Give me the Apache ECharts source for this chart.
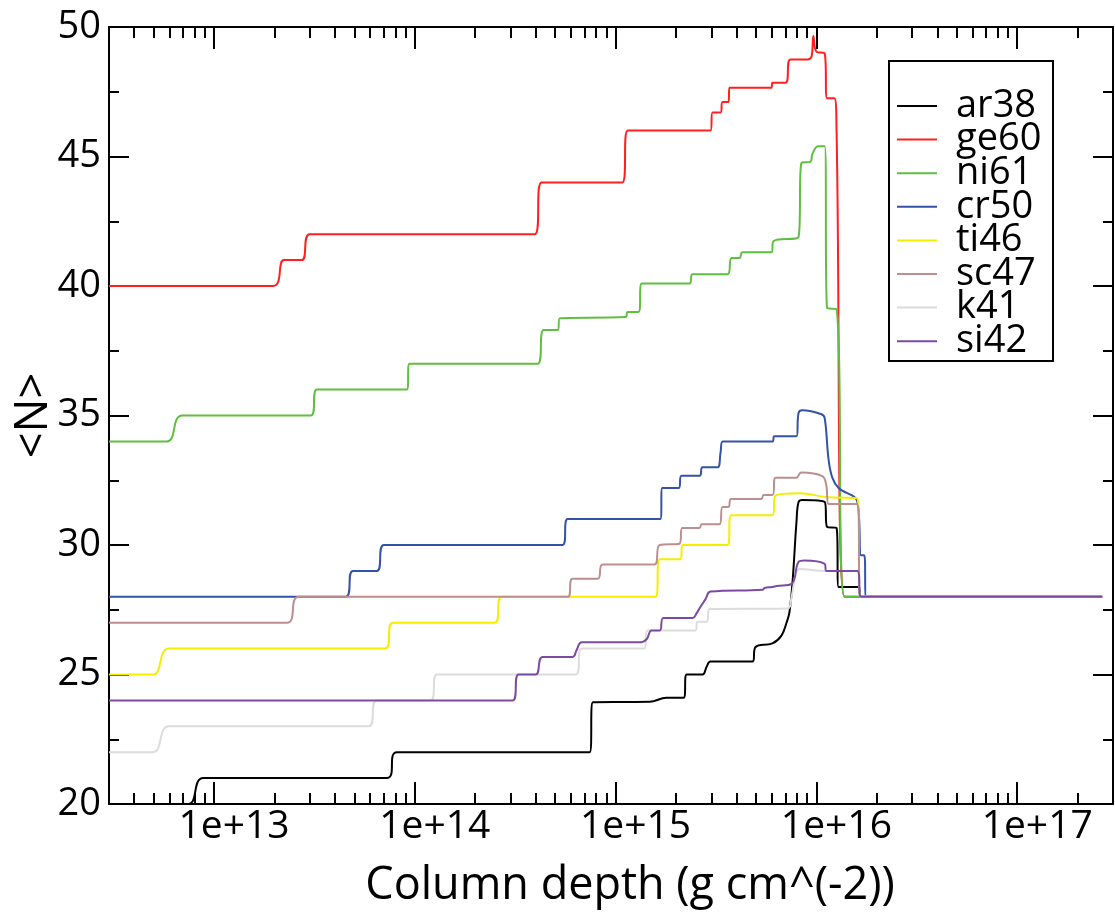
<!DOCTYPE html>
<html>
<head>
<meta charset="utf-8">
<script src="https://cdn.jsdelivr.net/npm/echarts@6/dist/echarts.min.js"></script>
<style>
html,body{margin:0;padding:0;background:#fff;}
#chart{width:1115px;height:912px;}
</style>
</head>
<body>
<div id="chart"></div>
<script>
// ---- data (column depth in g cm^-2, <N>) ----
const seriesNames = ['ar38', 'ge60', 'ni61', 'cr50', 'ti46', 'sc47', 'k41', 'si42'];
const seriesColors = ['#000000', '#ff1f1f', '#5fbf41', '#3352a8', '#f4ee00', '#bc8f8f', '#dcdcdc', '#7d4aa3'];

const ar38 = [[3.0e12,20],[7.43e12,20],[8.84e12,21],[7.26e13,21],[8.15e13,22],[7.43e14,22],[7.7e14,23.93],[1.48e15,23.95],[1.79e15,24.1],[2.18e15,24.1],[2.26e15,25.0],[2.71e15,25.0],[2.84e15,25.3],[2.97e15,25.5],[4.8e15,25.5],[4.98e15,26.06],[6.04e15,26.2],[6.7e15,26.5],[7.1e15,27.0],[7.34e15,27.4],[7.61e15,28.6],[7.96e15,30.9],[8.15e15,31.66],[8.51e15,31.74],[1.1e16,31.66],[1.13e16,30.7],[1.26e16,30.66],[1.29e16,28.38],[1.62e16,28.38],[1.67e16,28],[2.65e17,28]];

const ge60 = [[3.0e12,40],[1.97e13,40],[2.23e13,41],[2.74e13,41],[3.0e13,42],[3.96e14,42],[4.28e14,44],[1.08e15,44],[1.15e15,46],[2.97e15,46],[3.04e15,46.7],[3.33e15,46.7],[3.41e15,47.1],[3.65e15,47.1],[3.69e15,47.65],[5.97e15,47.65],[6.04e15,47.85],[7.02e15,47.85],[7.43e15,48.75],[9.0e15,48.75],[9.45e15,48.85],[9.66e15,49.65],[1.0e16,49.05],[1.1e16,48.98],[1.13e16,47.25],[1.23e16,47.25],[1.26e16,46.0],[1.38e16,28],[2.65e17,28]];

const ni61 = [[3.0e12,34],[5.83e12,34],[6.94e12,35],[3.04e13,35],[3.26e13,36],[9.13e13,36],[9.4e13,37],[4.09e14,37],[4.39e14,38.3],[5.15e14,38.3],[5.27e14,38.75],[1.12e15,38.8],[1.15e15,39.0],[1.3e15,39.0],[1.35e15,40.1],[2.33e15,40.1],[2.42e15,40.45],[3.61e15,40.45],[3.78e15,41.08],[4.14e15,41.08],[4.28e15,41.3],[5.97e15,41.3],[6.11e15,41.73],[8.15e15,41.9],[8.42e15,44.75],[9.35e15,44.8],[9.55e15,45.1],[1.02e16,45.4],[1.1e16,45.4],[1.13e16,39.15],[1.26e16,39.1],[1.38e16,28],[2.65e17,28]];

const cr50 = [[3.0e12,28],[4.53e13,28],[4.92e13,29],[6.47e13,29],[7.02e13,30],[5.45e14,30],[5.77e14,31],[1.67e15,31],[1.71e15,32.2],[2.06e15,32.2],[2.13e15,32.67],[2.62e15,32.67],[2.71e15,33.0],[3.22e15,33.0],[3.33e15,33.55],[3.41e15,34.0],[6.04e15,34.0],[6.18e15,34.2],[7.96e15,34.2],[8.15e15,35.1],[8.51e15,35.2],[1.06e16,35.05],[1.1e16,34.9],[1.15e16,33.3],[1.2e16,32.6],[1.29e16,32.2],[1.6e16,31.66],[1.67e16,29.6],[1.73e16,29.6],[1.77e16,28],[2.65e17,28]];

const ti46 = [[3.0e12,25],[4.98e12,25],[5.97e12,26],[7.1e13,26],[7.8e13,27],[2.5e14,27],[2.71e14,28],[1.58e15,28],[1.66e15,29.45],[2.11e15,29.45],[2.15e15,30.0],[3.61e15,30.0],[3.76e15,31.15],[6.04e15,31.15],[6.26e15,31.9],[8.24e15,32.0],[1.12e16,31.85],[1.6e16,31.8],[1.66e16,28],[2.65e17,28]];

const sc47 = [[3.0e12,27],[2.31e13,27],[2.65e13,28],[5.77e14,28],[6.11e14,28.7],[8.15e14,28.7],[8.62e14,29.25],[1.56e15,29.25],[1.66e15,30.0],[2.08e15,30.05],[2.15e15,30.66],[2.62e15,30.66],[2.68e15,30.8],[3.29e15,30.8],[3.41e15,31.47],[3.65e15,31.47],[3.76e15,31.78],[5.32e15,31.78],[5.45e15,31.93],[6.04e15,31.93],[6.26e15,32.6],[7.96e15,32.6],[8.24e15,32.75],[8.42e15,32.8],[1.07e16,32.66],[1.12e16,32.3],[1.15e16,31.58],[1.6e16,31.58],[1.66e16,28],[2.65e17,28]];

const k41 = [[3.0e12,22],[4.98e12,22],[5.97e12,23],[5.9e13,23],[6.47e13,24],[1.2e14,24],[1.29e14,25],[6.34e14,25],[6.79e14,26],[1.39e15,26],[1.44e15,26.7],[2.5e15,26.7],[2.56e15,27.04],[2.84e15,27.04],[2.94e15,27.53],[7.17e15,27.55],[7.52e15,28.0],[7.9e15,28.9],[8.24e15,29.07],[1.1e16,29.0],[1.6e16,29.0],[1.67e16,28],[2.65e17,28]];

const si42 = [[3.0e12,24],[3.07e14,24],[3.29e14,25],[4.0e14,25],[4.33e14,25.68],[6.11e14,25.68],[6.4e14,25.95],[6.79e14,26.25],[1.35e15,26.25],[1.43e15,26.37],[1.51e15,26.7],[1.66e15,26.7],[1.73e15,27.18],[2.42e15,27.18],[2.53e15,27.36],[2.62e15,27.56],[2.8e15,27.9],[2.97e15,28.2],[5.39e15,28.27],[5.52e15,28.34],[6.04e15,28.38],[6.34e15,28.42],[7.52e15,28.5],[8.15e15,29.35],[8.71e15,29.4],[1.1e16,29.27],[1.12e16,29.0],[1.6e16,29.0],[1.67e16,28],[2.65e17,28]];

const xMin = 3e12, xMax = 3e17;
const yMin = 20, yMax = 50, yStep = 5;
const xTickValues = [1e13, 1e14, 1e15, 1e16, 1e17];
const xTickLabels = ['1e+13', '1e+14', '1e+15', '1e+16', '1e+17'];
const xTitle = 'Column depth (g cm^(-2))';
const yTitle = '<N>';

// ---- chart ----
const allData = [ar38, ge60, ni61, cr50, ti46, sc47, k41, si42];
const FONT = '"Open Sans", "Noto Sans", sans-serif';

// minor log tick positions (2..9 per decade), in log10 space for decorative tick axes
const minorLog = [];
for (let d = 12; d <= 17; d++) {
  for (let m = 2; m <= 9; m++) {
    const v = m * Math.pow(10, d);
    if (v > xMin * 1.0001 && v < xMax * 0.9999) minorLog.push(Math.log10(v));
  }
}

const black = '#000';
function majorX(pos, showLabel) {
  return {
    type: 'log', logBase: 10, position: pos, min: xMin, max: xMax,
    gridIndex: 0,
    axisLine: {show: true, onZero: false, lineStyle: {color: black, width: 2}},
    axisTick: {show: true, inside: true, length: 22, lineStyle: {color: black, width: 2}},
    minorTick: {show: false},
    splitLine: {show: false},
    axisLabel: showLabel ? {
      show: true, color: black, fontSize: 39, fontFamily: FONT, margin: 3,
      padding: [0, 0, 0, 40],
      showMinLabel: false, showMaxLabel: false,
      formatter: function (v) {
        const i = xTickValues.findIndex(t => Math.abs(Math.log10(t) - Math.log10(v)) < 0.01);
        return i >= 0 ? xTickLabels[i] : '';
      }
    } : {show: false}
  };
}
function minorX(pos) {
  return {
    type: 'value', position: pos, min: Math.log10(xMin), max: Math.log10(xMax),
    gridIndex: 0,
    axisLine: {show: false},
    axisTick: {show: true, inside: true, length: 11, customValues: minorLog, lineStyle: {color: black, width: 2}},
    axisLabel: {show: false},
    splitLine: {show: false}
  };
}
function yAx(pos, showLabel) {
  return {
    type: 'value', position: pos, min: yMin, max: yMax, interval: yStep,
    gridIndex: 0,
    axisLine: {show: true, onZero: false, lineStyle: {color: black, width: 2}},
    axisTick: {show: true, inside: true, length: 20, lineStyle: {color: black, width: 2}},
    minorTick: {show: true, splitNumber: 2, length: 10, lineStyle: {color: black, width: 2}},
    splitLine: {show: false},
    axisLabel: showLabel ? {show: true, color: black, fontSize: 38, fontFamily: FONT, margin: 8} : {show: false}
  };
}

const xAxes = [majorX('bottom', true), majorX('top', false), minorX('bottom'), minorX('top')];
xAxes[0].name = xTitle;
xAxes[0].nameLocation = 'middle';
xAxes[0].nameGap = 60;
xAxes[0].nameTextStyle = {fontSize: 45, color: black, fontFamily: FONT, padding: [0, 0, 0, 38]};

const yAxes = [yAx('left', true), yAx('right', false)];
yAxes[0].name = yTitle;
yAxes[0].nameLocation = 'middle';
yAxes[0].nameGap = 52;
yAxes[0].nameMoveOverlap = false;
yAxes[0].nameRotate = 90;
yAxes[0].nameTextStyle = {fontSize: 45, color: black, fontFamily: FONT};

const option = {
  animation: false,
  backgroundColor: '#fff',
  grid: {left: 109, right: 2, top: 27, bottom: 108, containLabel: false, outerBoundsMode: 'none'},
  xAxis: xAxes,
  yAxis: yAxes,
  legend: {
    show: true, orient: 'vertical', left: 897, top: 87, padding: 0,
    itemWidth: 40, itemHeight: 2, itemGap: -4.4, icon: 'rect',
    data: seriesNames,
    textStyle: {fontSize: 38, lineHeight: 34, color: black, fontFamily: FONT, padding: [0, 0, 0, 14]}
  },
  graphic: [{
    type: 'rect', z: 100,
    shape: {x: 889, y: 61, width: 164, height: 300},
    style: {fill: 'none', stroke: black, lineWidth: 2}
  }],
  series: seriesNames.map((n, i) => ({
    name: n, type: 'line', xAxisIndex: 0, yAxisIndex: 0,
    data: allData[i], symbol: 'none', smooth: 0.4,
    lineStyle: {color: seriesColors[i], width: 2},
    itemStyle: {color: seriesColors[i]},
    clip: true
  }))
};

const chart = echarts.init(document.getElementById('chart'), null, {renderer: 'canvas'});
chart.setOption(option);
</script>
</body>
</html>
